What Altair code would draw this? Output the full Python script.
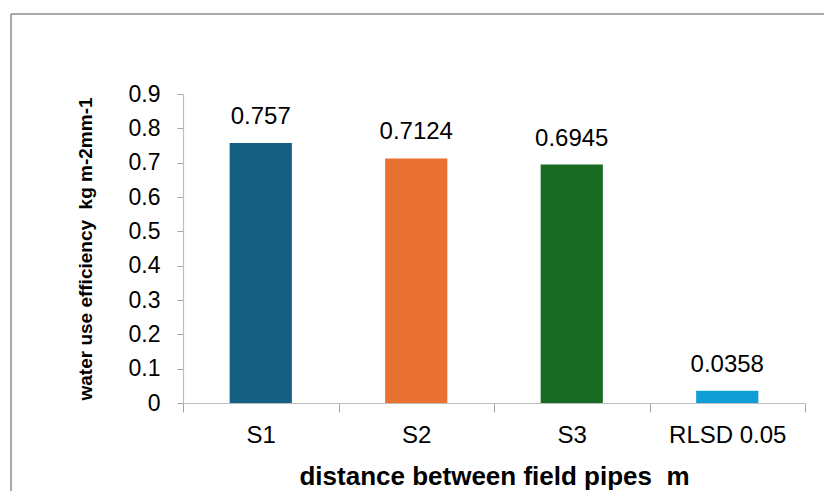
import altair as alt
import pandas as pd

categories = ["S1", "S2", "S3", "RLSD 0.05"]
values = [0.757, 0.7124, 0.6945, 0.0358]
labels = ["0.757", "0.7124", "0.6945", "0.0358"]
colors = ["#156082", "#E97132", "#196B24", "#0F9ED5"]
y_ticks = [0, 0.1, 0.2, 0.3, 0.4, 0.5, 0.6, 0.7, 0.8, 0.9]

df = pd.DataFrame({"cat": categories, "val": values, "lab": labels, "col": colors})

W, H = 622, 309
FONT = "Liberation Sans"
NB = "\u00a0"

x_enc = alt.X(
    "cat:N",
    sort=categories,
    scale=alt.Scale(paddingInner=0, paddingOuter=0),
    axis=alt.Axis(
        title="distance between field pipes" + NB + NB + "m",
        titleFont=FONT, titleFontSize=26, titleFontWeight="bold", titleColor="#000000",
        titlePadding=16,
        labelFont=FONT, labelFontSize=24, labelColor="#000000", labelPadding=11,
        labelAngle=0,
        tickBand="extent", tickSize=9, tickColor="#a6a6a6",
        domainColor="#bfbfbf", domainWidth=1.2, grid=False,
    ),
)

y_enc = alt.Y(
    "val:Q",
    scale=alt.Scale(domain=[0, 0.9], nice=False),
    axis=alt.Axis(
        title="water use efficiency" + NB + NB + "kg m-2mm-1",
        titleFont=FONT, titleFontSize=19, titleFontWeight="bold", titleColor="#000000",
        titlePadding=33,
        values=y_ticks, format="~g", labelOverlap=False,
        labelFont=FONT, labelFontSize=23, labelColor="#000000", labelPadding=17,
        tickSize=6, tickColor="#a6a6a6", domainColor="#bfbfbf", domainWidth=1.2,
        grid=False,
    ),
)

base = alt.Chart(df).encode(x=x_enc, y=y_enc)

bars = base.mark_bar(width=alt.RelativeBandSize(0.4)).encode(
    color=alt.Color("col:N", scale=None),
)

text = base.mark_text(
    font=FONT, fontSize=24, color="#000000", baseline="alphabetic", dy=-19
).encode(
    text="lab:N",
)

frame_data = alt.Data(values=[{}])
frame_top = alt.Chart(frame_data).mark_rule(stroke="#8c8c8c", strokeWidth=1.5).encode(
    x=alt.value(-172), x2=alt.value(W + 100), y=alt.value(-80),
)
frame_left = alt.Chart(frame_data).mark_rule(stroke="#8c8c8c", strokeWidth=1.5).encode(
    x=alt.value(-172), y=alt.value(-80), y2=alt.value(H + 200),
)
# white covers over the plot-area top and right edges (no view border in the reference)
cover_top = alt.Chart(frame_data).mark_rule(stroke="#ffffff", strokeWidth=3).encode(
    x=alt.value(2), x2=alt.value(W + 4), y=alt.value(0),
)
cover_right = alt.Chart(frame_data).mark_rule(stroke="#ffffff", strokeWidth=3).encode(
    x=alt.value(W), y=alt.value(-2), y2=alt.value(H - 2),
)

chart = alt.layer(frame_top, frame_left, cover_top, cover_right, bars, text).properties(
    width=W, height=H,
    background="#ffffff",
    autosize=alt.AutoSizeParams(type="none"),
    padding={"left": 183, "top": 94, "right": 19, "bottom": 88},
).configure_view(stroke=None, strokeWidth=0)

chart.save("out.html", embed_options={"renderer": "svg", "actions": False})
